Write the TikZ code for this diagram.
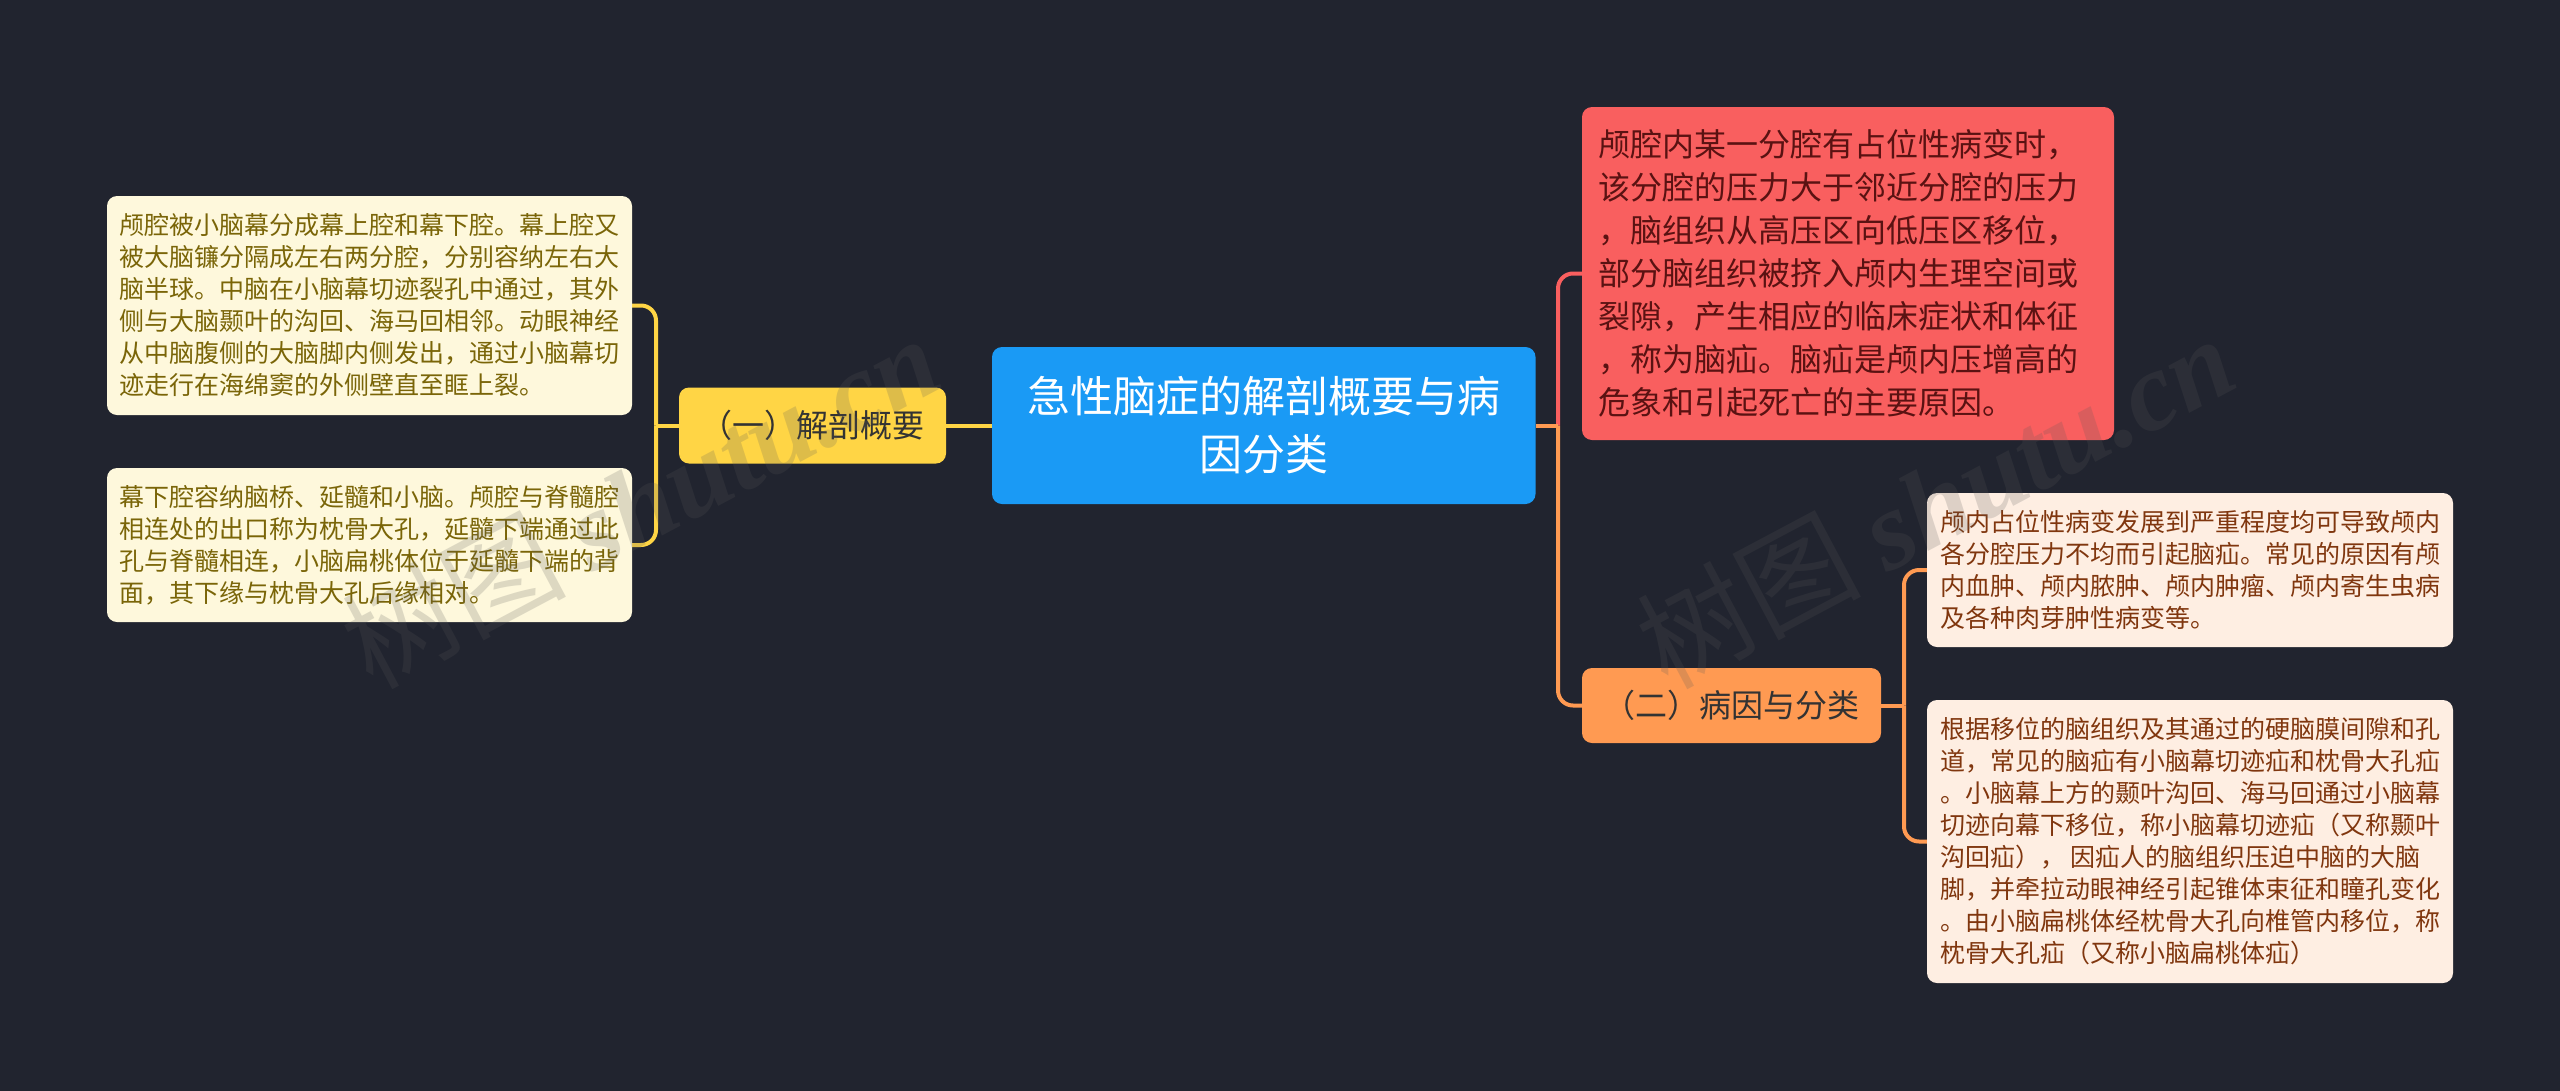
\documentclass[tikz,border=0pt]{standalone}
\usepackage{fontspec}
\setmainfont{Noto Sans CJK SC}
\setsansfont{Noto Sans CJK SC}
\newfontfamily\stampfont{Liberation Serif}
\usetikzlibrary{backgrounds}
\definecolor{pagecol}{HTML}{21242F}
\definecolor{rootcol}{HTML}{1A9AF5}
\definecolor{redcol}{HTML}{F95F5F}
\definecolor{yellowcol}{HTML}{FFD545}
\definecolor{orangecol}{HTML}{FF9A52}
\definecolor{palecol}{HTML}{FEF8DC}
\definecolor{peachcol}{HTML}{FEEEE2}
\definecolor{olivetext}{HTML}{7A6508}
\definecolor{rusttext}{HTML}{80360E}
\definecolor{darkred}{HTML}{5A1212}
\tikzset{
    box/.style={rounded corners=10pt,align=left,inner xsep=0pt,inner ysep=0pt},
    rootbox/.style={box,fill=rootcol,text=white,align=center,minimum width=543.5pt,minimum height=157pt,font=\fontsize{43}{58}\selectfont},
    redbox/.style={box,fill=redcol,text=darkred,inner xsep=16pt,text width=500pt,minimum height=333pt,font=\fontsize{32}{43}\selectfont},
    yellowbox/.style={box,fill=yellowcol,text=black!80,align=center,minimum width=267pt,minimum height=76pt,font=\fontsize{32}{43}\selectfont},
    orangebox/.style={box,fill=orangecol,text=black!80,align=center,minimum width=299pt,minimum height=75pt,font=\fontsize{32}{43}\selectfont},
    palebox/.style={box,fill=palecol,text=olivetext,minimum width=525pt,font=\fontsize{25}{32}\selectfont},
    peachbox/.style={box,fill=peachcol,text=rusttext,minimum width=526pt,font=\fontsize{25}{32}\selectfont},
    yellowwire/.style={draw=yellowcol,line width=4pt,rounded corners=15pt},
    orangewire/.style={draw=orangecol,line width=4pt,rounded corners=15pt},
    redwire/.style={draw=redcol,line width=4pt,rounded corners=15pt},
    stamp/.style={text=black!65,opacity=.2,rotate=28,font=\fontsize{112}{112}\selectfont}
}
\begin{document}
\begin{tikzpicture}[x=1pt,y=-1pt]
    \useasboundingbox (0,0) rectangle (2560,1090);
    % centre and first level
    \node[rootbox] (root) at (1263.75,425.5) {急性脑症的解剖概要与病\\因分类};
    \node[yellowbox] (anatomy) at (812.5,425.5) {（一）解剖概要};
    \node[orangebox] (cause) at (1731.5,705.5) {（二）病因与分类};
    \node[redbox] (summary) at (1848,273.5) {颅腔内某一分腔有占位性病变时，\\该分腔的压力大于邻近分腔的压力\\，脑组织从高压区向低压区移位，\\部分脑组织被挤入颅内生理空间或\\裂隙，产生相应的临床症状和体征\\，称为脑疝。脑疝是颅内压增高的\\危象和引起死亡的主要原因。};
    % leaves
    \node[palebox,minimum height=219pt] (upper) at (369.5,305.5) {颅腔被小脑幕分成幕上腔和幕下腔。幕上腔又\\被大脑镰分隔成左右两分腔，分别容纳左右大\\脑半球。中脑在小脑幕切迹裂孔中通过，其外\\侧与大脑颞叶的沟回、海马回相邻。动眼神经\\从中脑腹侧的大脑脚内侧发出，通过小脑幕切\\迹走行在海绵窦的外侧壁直至眶上裂。};
    \node[palebox,minimum height=154pt] (lower) at (369.5,545) {幕下腔容纳脑桥、延髓和小脑。颅腔与脊髓腔\\相连处的出口称为枕骨大孔，延髓下端通过此\\孔与脊髓相连，小脑扁桃体位于延髓下端的背\\面，其下缘与枕骨大孔后缘相对。};
    \node[peachbox,minimum height=154pt] (occupy) at (2190,570) {颅内占位性病变发展到严重程度均可导致颅内\\各分腔压力不均而引起脑疝。常见的原因有颅\\内血肿、颅内脓肿、颅内肿瘤、颅内寄生虫病\\及各种肉芽肿性病变等。};
    \node[peachbox,minimum height=283pt] (shift) at (2190,841.5) {根据移位的脑组织及其通过的硬脑膜间隙和孔\\道，常见的脑疝有小脑幕切迹疝和枕骨大孔疝\\。小脑幕上方的颞叶沟回、海马回通过小脑幕\\切迹向幕下移位，称小脑幕切迹疝（又称颞叶\\沟回疝）， 因疝人的脑组织压迫中脑的大脑\\脚，并牵拉动眼神经引起锥体束征和瞳孔变化\\。由小脑扁桃体经枕骨大孔向椎管内移位，称\\枕骨大孔疝（又称小脑扁桃体疝）};
    % joints
    \coordinate (leftjoin) at (656,425.5);
    \coordinate (rightjoin) at (1558,425.5);
    \coordinate (causejoin) at (1904,705.5);
    \begin{scope}[on background layer]
        \fill[pagecol] (-4,-4) rectangle (2564,1094);
        \draw[yellowwire] (root.west) -- (anatomy.east);
        \draw[yellowwire] (anatomy.west) -- (leftjoin);
        \draw[yellowwire] (upper.east) -| (leftjoin);
        \draw[yellowwire] (lower.east) -| (leftjoin);
        \draw[redwire] (summary.west) -| (rightjoin);
        \draw[orangewire] (root.east) -- (rightjoin);
        \draw[orangewire] (cause.west) -| (rightjoin);
        \draw[orangewire] (cause.east) -- (causejoin);
        \draw[orangewire] (occupy.west) -| (causejoin);
        \draw[orangewire] (shift.west) -| (causejoin);
    \end{scope}
    % stamps
    \node[stamp] (stampleft) at (640,500) {树图 {\stampfont\bfseries\itshape shutu.cn}};
    \node[stamp] (stampright) at (1935,500) {树图 {\stampfont\bfseries\itshape shutu.cn}};
\end{tikzpicture}
\end{document}
